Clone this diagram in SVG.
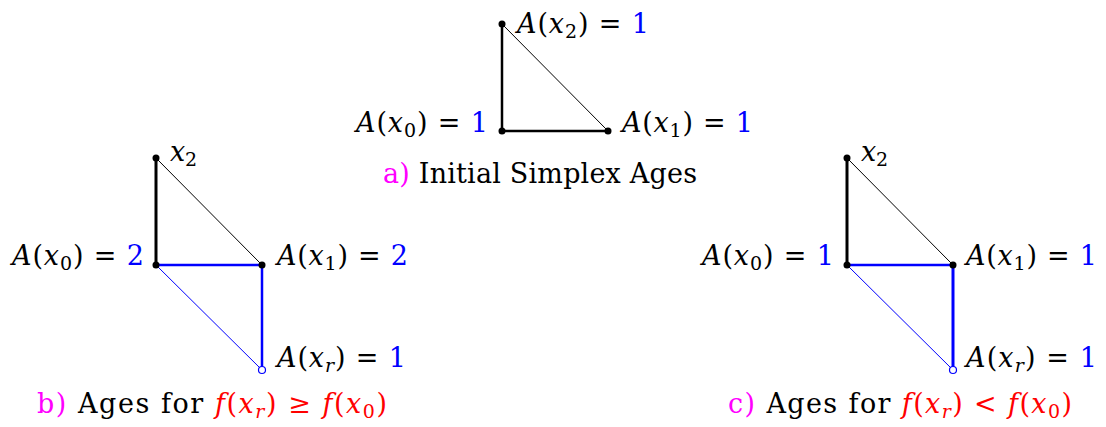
<svg xmlns="http://www.w3.org/2000/svg" width="1106" height="427" viewBox="0 0 1106 427" font-family="'DejaVu Serif', serif">
<style>
text{font-family:'DejaVu Serif',serif;font-size:27px;fill:#000}
.i{font-style:italic}
.s{font-size:19px}
.b{fill:#0000ff}
.m{fill:#ff00ff}
.r{fill:#ff0000}
.thin{stroke:#000;stroke-width:1}
.thick{stroke:#000;stroke-width:2.5}
.thick3{stroke:#000;stroke-width:3}
.bl{stroke:#0000ff;stroke-width:2.5}
.bl3{stroke:#0000ff;stroke-width:3}
.blt{stroke:#0000ff;stroke-width:1}
.dot{fill:#000}
.hol{fill:#fff;stroke:#0000ff;stroke-width:1.2}
</style>
<g id="connectors" fill="none">
<line class="thin" x1="502" y1="24" x2="608" y2="131"/>
<line class="thick" x1="502" y1="24" x2="502" y2="131"/>
<line class="thick" x1="502" y1="131" x2="608" y2="131"/>
<line class="thin" x1="156" y1="158" x2="262" y2="265"/>
<line class="thick3" x1="156" y1="158" x2="156" y2="265"/>
<line class="bl" x1="156" y1="265" x2="262" y2="265"/>
<line class="bl" x1="262" y1="265" x2="262" y2="370"/>
<line class="blt" x1="156" y1="265" x2="262" y2="370"/>
<line class="thin" x1="847" y1="158" x2="953" y2="265"/>
<line class="thick3" x1="847" y1="158" x2="847" y2="265"/>
<line class="bl" x1="847" y1="265" x2="953" y2="265"/>
<line class="bl3" x1="953" y1="265" x2="953" y2="370"/>
<line class="blt" x1="847" y1="265" x2="953" y2="370"/>
</g>
<g id="a-x2"><circle class="dot" cx="502" cy="24" r="3.5"/><text x="517" y="33" textLength="132"><tspan class="i">A</tspan>(<tspan class="i">x</tspan><tspan class="s" dy="5">2</tspan><tspan dy="-5">) = </tspan><tspan class="b">1</tspan></text></g>
<g id="a-x0"><circle class="dot" cx="502" cy="131" r="3.5"/><text x="356" y="132" textLength="132"><tspan class="i">A</tspan>(<tspan class="i">x</tspan><tspan class="s" dy="5">0</tspan><tspan dy="-5">) = </tspan><tspan class="b">1</tspan></text></g>
<g id="a-x1"><circle class="dot" cx="608" cy="131" r="3.5"/><text x="622" y="132" textLength="131"><tspan class="i">A</tspan>(<tspan class="i">x</tspan><tspan class="s" dy="5">1</tspan><tspan dy="-5">) = </tspan><tspan class="b">1</tspan></text></g>
<g id="a-caption"><text x="383" y="183" textLength="314"><tspan class="m">a)</tspan> Initial Simplex Ages</text></g>

<g id="b-x2"><circle class="dot" cx="156" cy="158" r="3.5"/><text x="170" y="161" textLength="27"><tspan class="i">x</tspan><tspan class="s" dy="5">2</tspan></text></g>
<g id="b-x0"><circle class="dot" cx="156" cy="265" r="3.5"/><text x="12" y="265" textLength="132"><tspan class="i">A</tspan>(<tspan class="i">x</tspan><tspan class="s" dy="5">0</tspan><tspan dy="-5">) = </tspan><tspan class="b">2</tspan></text></g>
<g id="b-x1"><circle class="dot" cx="262" cy="265" r="3.5"/><text x="277" y="265" textLength="131"><tspan class="i">A</tspan>(<tspan class="i">x</tspan><tspan class="s" dy="5">1</tspan><tspan dy="-5">) = </tspan><tspan class="b">2</tspan></text></g>
<g id="b-xr"><circle class="hol" cx="262" cy="370" r="3.5"/><text x="277" y="367" textLength="129"><tspan class="i">A</tspan>(<tspan class="i">x</tspan><tspan class="s i" dy="5">r</tspan><tspan dy="-5">) = </tspan><tspan class="b">1</tspan></text></g>
<g id="b-caption"><text x="37" y="413" textLength="350"><tspan class="m">b)</tspan> Ages for <tspan class="r"><tspan class="i">f</tspan>(<tspan class="i">x</tspan><tspan class="s i" dy="5">r</tspan><tspan dy="-5">) ≥ </tspan><tspan class="i">f</tspan>(<tspan class="i">x</tspan><tspan class="s" dy="5">0</tspan><tspan dy="-5">)</tspan></tspan></text></g>

<g id="c-x2"><circle class="dot" cx="847" cy="158" r="3.5"/><text x="861" y="161" textLength="27"><tspan class="i">x</tspan><tspan class="s" dy="5">2</tspan></text></g>
<g id="c-x0"><circle class="dot" cx="847" cy="265" r="3.5"/><text x="702" y="265" textLength="132"><tspan class="i">A</tspan>(<tspan class="i">x</tspan><tspan class="s" dy="5">0</tspan><tspan dy="-5">) = </tspan><tspan class="b">1</tspan></text></g>
<g id="c-x1"><circle class="dot" cx="953" cy="265" r="3.5"/><text x="966" y="265" textLength="131"><tspan class="i">A</tspan>(<tspan class="i">x</tspan><tspan class="s" dy="5">1</tspan><tspan dy="-5">) = </tspan><tspan class="b">1</tspan></text></g>
<g id="c-xr"><circle class="hol" cx="953" cy="370" r="3.5"/><text x="966" y="367" textLength="131"><tspan class="i">A</tspan>(<tspan class="i">x</tspan><tspan class="s i" dy="5">r</tspan><tspan dy="-5">) = </tspan><tspan class="b">1</tspan></text></g>
<g id="c-caption"><text x="728" y="413" textLength="344"><tspan class="m">c)</tspan> Ages for <tspan class="r"><tspan class="i">f</tspan>(<tspan class="i">x</tspan><tspan class="s i" dy="5">r</tspan><tspan dy="-5">) &lt; </tspan><tspan class="i">f</tspan>(<tspan class="i">x</tspan><tspan class="s" dy="5">0</tspan><tspan dy="-5">)</tspan></tspan></text></g>
</svg>
